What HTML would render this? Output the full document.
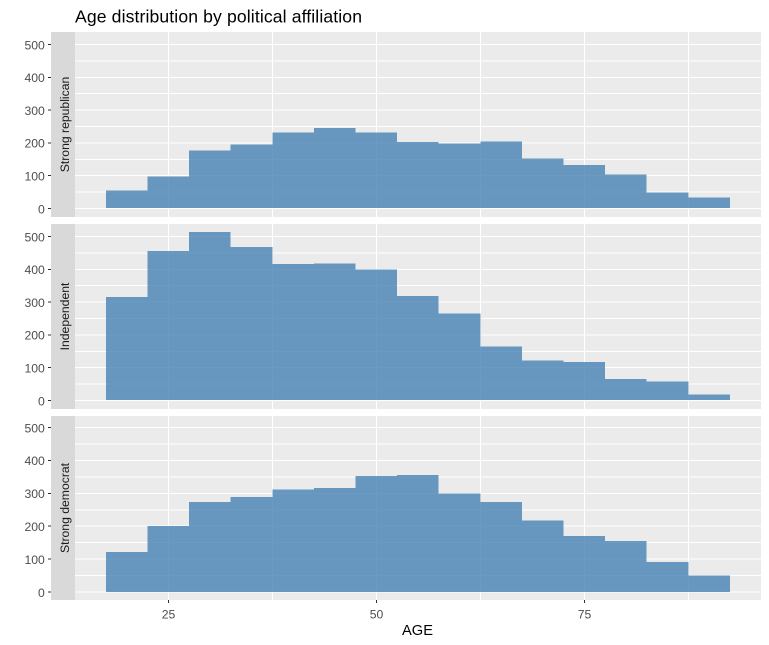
<!DOCTYPE html>
<html>
<head>
<meta charset="utf-8">
<style>
html,body{margin:0;padding:0;background:#fff;width:769px;height:645px;overflow:hidden}
svg{display:block}
text{font-family:"Liberation Sans",Arial,sans-serif}
rect,line{shape-rendering:crispEdges}
</style>
</head>
<body>
<svg id="chart" xmlns="http://www.w3.org/2000/svg" width="769" height="645" viewBox="0 0 769 645">
<rect width="769" height="645" fill="#fff"/>
<text x="75" y="22.6" font-size="17.6" textLength="287" lengthAdjust="spacing" fill="#000">Age distribution by political affiliation</text>
<text x="417.5" y="635" font-size="14.67" fill="#000" text-anchor="middle">AGE</text>
</svg>
<script>
const facets = ["Strong republican", "Independent", "Strong democrat"];
const binStarts = [17.5, 22.5, 27.5, 32.5, 37.5, 42.5, 47.5, 52.5, 57.5, 62.5, 67.5, 72.5, 77.5, 82.5, 87.5];
const binWidth = 5;
const republicanCounts = [55, 97, 177, 195, 232, 245, 232, 202, 198, 205, 153, 132, 104, 49, 34];
const independentCounts = [315, 456, 513, 468, 416, 418, 400, 318, 265, 165, 122, 117, 65, 58, 19];
const democratCounts = [122, 200, 274, 289, 312, 316, 353, 356, 300, 273, 218, 170, 155, 92, 50];
const yTicks = [0, 100, 200, 300, 400, 500];
const yMinor = [50, 150, 250, 350, 450];
const xTicks = [25, 50, 75];
const xMinor = [37.5, 62.5, 87.5];

const svg = document.getElementById('chart');
const NS = 'http://www.w3.org/2000/svg';
const panelLeft = 51, panelRight = 761, stripRight = 75;
const panelTops = [32, 224, 416];
const panelHeights = [185, 185, 184];
const panelZeros = [208.5, 400.5, 592.05];
const panelScales = [0.328, 0.328, 0.3292];
const seriesByFacet = [republicanCounts, independentCounts, democratCounts];

function xScale(v) { return 105.9 + (v - 17.5) * 8.32; }
function yScale(v, p) { return panelZeros[p] - v * panelScales[p]; }
function mk(tag, attrs, parent) {
  const el = document.createElementNS(NS, tag);
  for (const k in attrs) el.setAttribute(k, attrs[k]);
  (parent || svg).appendChild(el);
  return el;
}

facets.forEach(function (facet, p) {
  const slug = facet.toLowerCase().replace(/\s+/g, '-');
  const top = panelTops[p], bottom = top + panelHeights[p];
  const g = mk('g', {});
  
  

  const bg = mk('rect', { x: panelLeft, y: top, width: panelRight - panelLeft, height: panelHeights[p], fill: '#EBEBEB' }, g);
  
  

  yMinor.forEach(function (v) {
    const l = mk('line', { x1: panelLeft, x2: panelRight, y1: yScale(v, p), y2: yScale(v, p), stroke: '#fff', 'stroke-width': 1 }, g);
    
    
  });
  xMinor.forEach(function (v) {
    const l = mk('line', { x1: xScale(v), x2: xScale(v), y1: top, y2: bottom, stroke: '#fff', 'stroke-width': 1 }, g);
    
    
  });
  yTicks.forEach(function (v) {
    const y = yScale(v, p);
    const l = mk('line', { x1: panelLeft, x2: panelRight, y1: y, y2: y, stroke: '#fff', 'stroke-width': 1 }, g);
    
    
    const t = mk('line', { x1: 48, x2: panelLeft, y1: y, y2: y, stroke: '#333', 'stroke-width': 1 }, g);
    
    
    const lab = mk('text', { x: 44.8, y: y + 4.8, 'font-size': 12.2, fill: '#4D4D4D', 'text-anchor': 'end' }, g);
    lab.textContent = v;
    
    
  });
  xTicks.forEach(function (v) {
    const l = mk('line', { x1: xScale(v), x2: xScale(v), y1: top, y2: bottom, stroke: '#fff', 'stroke-width': 1 }, g);
    
    
  });

  seriesByFacet[p].forEach(function (c, i) {
    const x0 = xScale(binStarts[i]), x1 = xScale(binStarts[i] + binWidth);
    const yT = yScale(c, p), y0 = Math.floor(yScale(0, p));
    const r = mk('rect', { x: x0, y: yT, width: x1 - x0, height: y0 - yT, fill: '#4682B4', 'fill-opacity': 0.8 }, g);
    
    
  });

  const strip = mk('rect', { x: panelLeft, y: top, width: stripRight - panelLeft, height: panelHeights[p], fill: '#D9D9D9' }, g);
  
  
  const cy = top + panelHeights[p] / 2;
  const st = mk('text', { x: 0, y: 0, 'font-size': 12.2, fill: '#1A1A1A', 'text-anchor': 'middle', transform: 'translate(69.2 ' + cy + ') rotate(-90)' }, g);
  st.textContent = facet;
  
  
});

const axisBottom = panelTops[2] + panelHeights[2];
xTicks.forEach(function (v) {
  const x = xScale(v);
  const t = mk('line', { x1: x, x2: x, y1: axisBottom, y2: axisBottom + 3, stroke: '#333', 'stroke-width': 1 });
  
  
  const lab = mk('text', { x: x + 0.2, y: axisBottom + 18.6, 'font-size': 12.2, fill: '#4D4D4D', 'text-anchor': 'middle' });
  lab.textContent = v;
  
  
});
</script>
</body>
</html>
